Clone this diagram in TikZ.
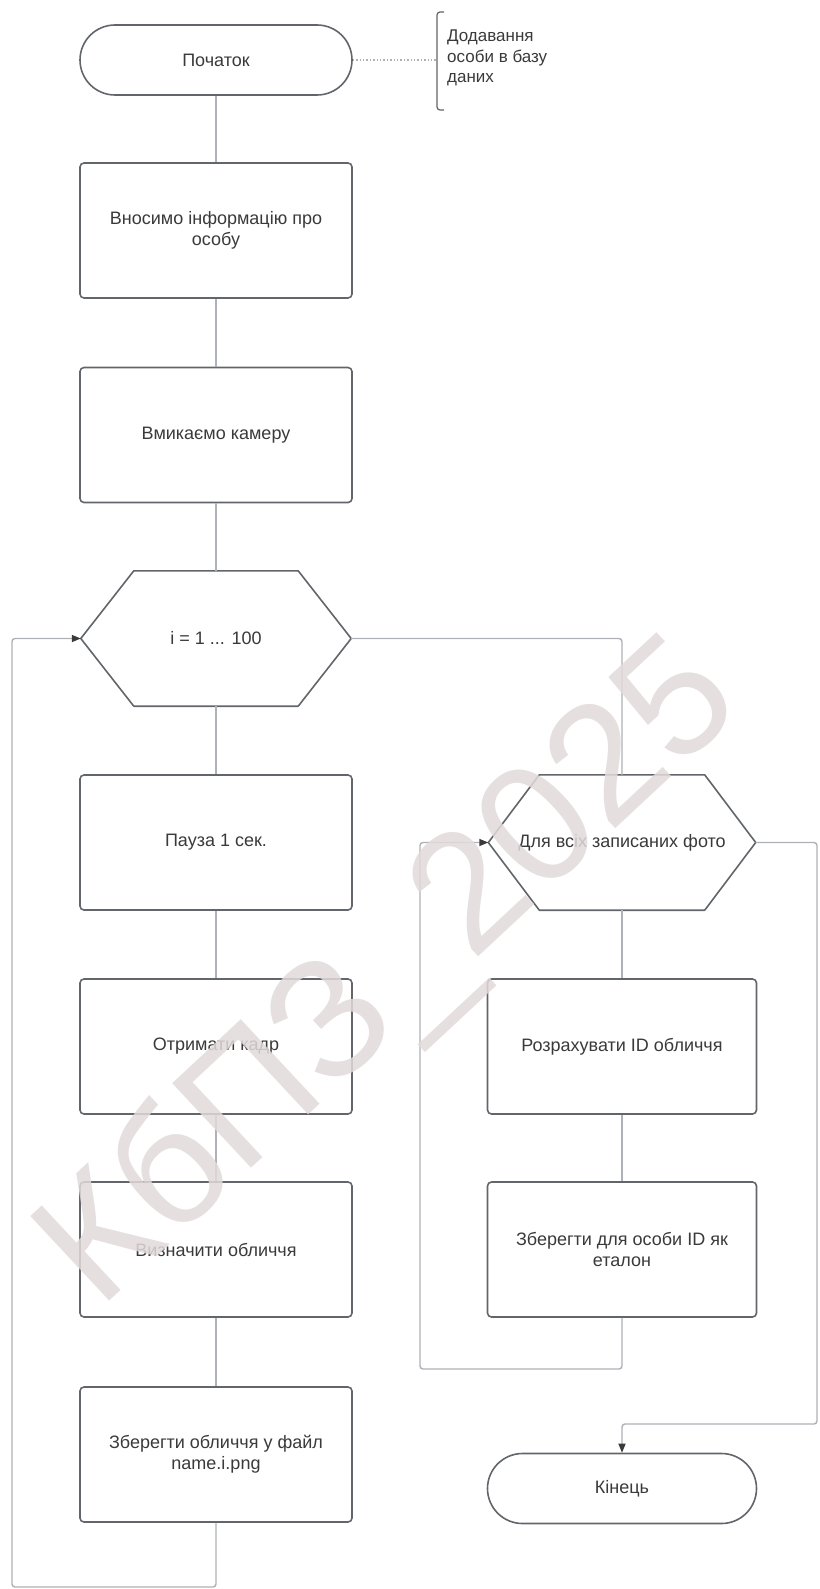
\documentclass[tikz,border=0pt]{standalone}
\usepackage{fontspec}
\setmainfont{Liberation Sans}
\usetikzlibrary{arrows.meta}

\definecolor{boxgray}{HTML}{62666A}
\definecolor{wiregray}{HTML}{AEB2B6}
\definecolor{inkgray}{HTML}{3A3A3A}
\definecolor{markgray}{HTML}{E2DADA}

\tikzset{
  procbox/.style={draw=boxgray, line width=1.6pt, rounded corners=4pt,
    minimum width=272pt, minimum height=135pt, inner sep=0pt,
    align=center, text=inkgray, font=\fontsize{18}{21}\selectfont},
  termbox/.style={procbox, rounded corners=35pt, minimum height=70pt},
  hexbox/.style={minimum width=270pt, minimum height=135pt, inner sep=0pt,
    align=center, text=inkgray, font=\fontsize{18}{21}\selectfont},
  hexline/.style={draw=boxgray, line width=1.6pt, line join=round},
  wire/.style={draw=wiregray, line width=1.4pt, rounded corners=3pt},
  wirearrow/.style={wire, -{Triangle[length=9pt,width=7pt,color=inkgray]}},
}

\begin{document}
\begin{tikzpicture}[x=1pt,y=-1pt]
\path[use as bounding box, fill=white] (0,0) rectangle (819,1589);

% left column
\node[termbox] (start) at (216,60) {Початок};
\node[procbox] (info) at (216,230.5) {Вносимо інформацію про\\особу};
\node[procbox] (camera) at (216,435) {Вмикаємо камеру};
\node[hexbox] (loopi) at (216,638.5) {i = 1 ... 100};
\node[procbox] (pause) at (216,842.5) {Пауза 1 сек.};
\node[procbox] (frame) at (216,1046.5) {Отримати кадр};
\node[procbox] (detect) at (216,1249.5) {Визначити обличчя};
\node[procbox] (save) at (216,1454.5) {Зберегти обличчя у файл\\name.i.png};

% right column
\node[hexbox, minimum width=267pt] (loopf) at (622,842.5) {Для всіх записаних фото};
\node[procbox, minimum width=269pt] (calc) at (622,1046.5) {Розрахувати ID обличчя};
\node[procbox, minimum width=269pt] (store) at (622,1249.5) {Зберегти для особи ID як\\еталон};
\node[termbox, minimum width=269pt] (stop) at (622,1488.5) {Кінець};

% hexagons
\foreach \h/\c in {loopi/53, loopf/51}{
  \draw[hexline] (\h.west) -- ([xshift=\c pt]\h.north west) -- ([xshift=-\c pt]\h.north east)
    -- (\h.east) -- ([xshift=-\c pt]\h.south east) -- ([xshift=\c pt]\h.south west) -- cycle;
}

% note
\coordinate (brk) at (437,60);
\draw[boxgray, line width=1.2pt, rounded corners=3pt] (444,12) -- (437,12) -- (437,110) -- (444,110);
\node[anchor=west, align=left, text=inkgray, inner sep=0pt,
  font=\fontsize{17}{20.5}\selectfont] (note) at (447,58) {Додавання\\особи в базу\\даних};
\draw[wiregray, line width=1.4pt, dotted] (start.east) -- (brk);

% connectors
\draw[wire] (start) -- (info);
\draw[wire] (info) -- (camera);
\draw[wire] (camera) -- (loopi);
\draw[wire] (loopi) -- (pause);
\draw[wire] (pause) -- (frame);
\draw[wire] (frame) -- (detect);
\draw[wire] (detect) -- (save);
\coordinate (backi) at (12,1587);
\draw[wirearrow] (save.south) |- (backi) |- (loopi.west);
\draw[wire] (loopi.east) -| (loopf.north);
\draw[wire] (loopf) -- (calc);
\draw[wire] (calc) -- (store);
\coordinate (backf) at (420,1369);
\draw[wirearrow] (store.south) |- (backf) |- (loopf.west);
\coordinate (exitf) at (817,1424);
\draw[wirearrow] (loopf.east) -| (exitf) -| (stop.north);

% watermark
\node[rotate=43, text=markgray, opacity=0.85, inner sep=0pt,
  font=\fontsize{168}{168}\selectfont] (mark) at (392,976) {КбПЗ\_2025};
\end{tikzpicture}
\end{document}
